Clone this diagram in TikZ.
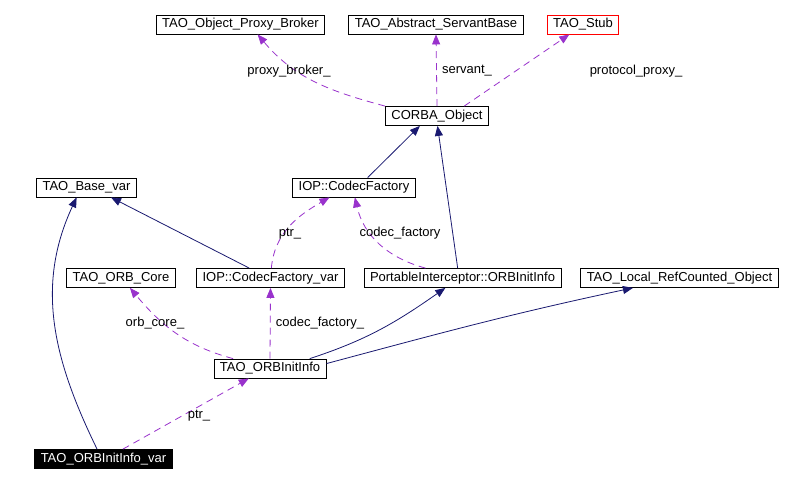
\documentclass[tikz,border=0pt]{standalone}
\usepackage{fontspec}
\setmainfont{Liberation Sans}
\usetikzlibrary{arrows.meta}
\definecolor{isablue}{RGB}{25,25,112}
\definecolor{hasapurple}{RGB}{153,50,204}

\begin{document}
\begin{tikzpicture}[->,>={Triangle[length=10pt,width=8pt]},x=1pt,y=-1pt,line width=0.8pt]
  \tikzstyle{cls}=[draw=black,fill=white,text=black,rectangle,inner xsep=6pt,inner ysep=0pt,minimum height=19pt,font=\fontsize{13}{15}\selectfont]
  \tikzstyle{lbl}=[font=\fontsize{13}{15}\selectfont,inner sep=1pt]
  \tikzstyle{isa}=[draw=isablue]
  \tikzstyle{hasa}=[draw=hasapurple,dash pattern=on 7pt off 5pt]

  \path[use as bounding box, fill=white] (0,0) rectangle (790,483);

  \node[cls]                       (broker)  at (240.5,24.5) {TAO\_Object\_Proxy\_Broker};
  \node[cls]                       (servant) at (436,24.5)   {TAO\_Abstract\_ServantBase};
  \node[cls, draw=red]             (stub)    at (583,24.5)   {TAO\_Stub};
  \node[cls]                       (corba)   at (437,116)    {CORBA\_Object};
  \node[cls]                       (basevar) at (86.5,187.5) {TAO\_Base\_var};
  \node[cls]                       (codecf)  at (354,187.5)  {IOP::CodecFactory};
  \node[cls]                       (orbcore) at (121,278)    {TAO\_ORB\_Core};
  \node[cls]                       (cfvar)   at (270.5,278)  {IOP::CodecFactory\_var};
  \node[cls]                       (pi)      at (462.5,278)  {PortableInterceptor::ORBInitInfo};
  \node[cls]                       (local)   at (679.5,278)  {TAO\_Local\_RefCounted\_Object};
  \node[cls]                       (orbinit) at (270,368.5)  {TAO\_ORBInitInfo};
  \node[cls, fill=black, text=white] (orbvar) at (103.5,459) {TAO\_ORBInitInfo\_var};

  \path (corba.north west) edge [hasa, out=165, in=-50]  (broker.-30)
        (corba.north)      edge [hasa]                   (servant.south)
        (corba.20)         edge [hasa]                   (stub.-144)
        (codecf.36)        edge [isa]                    (corba.-150)
        (pi.116)           edge [isa, out=98, in=-82]    (corba.-87)
        (cfvar.155)        edge [isa]                    (basevar.-22)
        (orbvar.123)       edge [isa, out=116, in=-115]  (basevar.-135)
        (cfvar.85)         edge [hasa, out=85, in=-150]  (codecf.-158)
        (pi.165)           edge [hasa, out=165, in=-77]  (codecf.-85)
        (orbinit.165)      edge [hasa, out=165, in=-50]  (orbcore.-48)
        (orbinit.north)    edge [hasa]                   (cfvar.south)
        (orbinit.14)       edge [isa, out=18, in=-145]   (pi.-150)
        (orbinit.5)        edge [isa, out=15, in=-168]   (local.-168)
        (orbvar.27)        edge [hasa]                   (orbinit.-155);

  \node[lbl] (lproxy)    at (289,71)  {proxy\_broker\_};
  \node[lbl] (lservant)  at (467,71)  {servant\_};
  \node[lbl] (lprotocol) at (636,71)  {protocol\_proxy\_};
  \node[lbl] (lptrcf)    at (290,234) {ptr\_};
  \node[lbl] (lcodec)    at (400,233) {codec\_factory};
  \node[lbl] (lorbcore)  at (155,323) {orb\_core\_};
  \node[lbl] (lcodecvar) at (320,323) {codec\_factory\_};
  \node[lbl] (lptrinit)  at (199,416) {ptr\_};
\end{tikzpicture}
\end{document}
